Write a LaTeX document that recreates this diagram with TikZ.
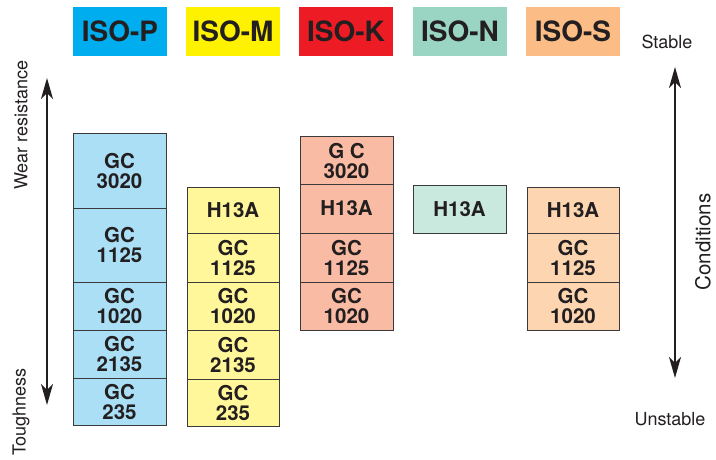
\documentclass[tikz,border=0pt]{standalone}
\usepackage{fontspec}
\setmainfont{TeX Gyre Heros}
\usetikzlibrary{arrows.meta}
\definecolor{hP}{HTML}{00AEEF}
\definecolor{hM}{HTML}{FFF200}
\definecolor{hK}{HTML}{ED1C24}
\definecolor{hN}{HTML}{99D5C2}
\definecolor{hS}{HTML}{FBBD85}
\definecolor{cP}{HTML}{AADFF6}
\definecolor{cM}{HTML}{FFF799}
\definecolor{cK}{HTML}{F9BBA3}
\definecolor{cN}{HTML}{C9E8DE}
\definecolor{cS}{HTML}{FDD6B1}
\definecolor{edge}{HTML}{3A3A3A}
\definecolor{ink}{HTML}{231F20}
\tikzset{
  header/.style={inner sep=0pt, minimum width=94pt, minimum height=49pt, text=ink,
    font=\fontsize{28}{28}\selectfont\bfseries},
  cell/.style={draw=edge, line width=1pt, inner sep=0pt, align=center, text=ink,
    font=\fontsize{20.5}{20}\selectfont\bfseries},
  lbl/.style={inner sep=0pt, text=ink, font=\fontsize{18}{18}\selectfont},
  axis/.style={draw=ink, line width=1.8pt, {Stealth[length=21pt,width=12pt,inset=6pt]}-{Stealth[length=21pt,width=12pt,inset=6pt]}}
}
\begin{document}
\begin{tikzpicture}[x=1pt,y=1pt]
\useasboundingbox (0,0) rectangle (716,459);
% headers
\node[header, fill=hP] (hp) at (120,427.5) {ISO-P};
\node[header, fill=hM] (hm) at (233,427.5) {ISO-M};
\node[header, fill=hK] (hk) at (346,427.5) {ISO-K};
\node[header, fill=hN] (hn) at (460,427.5) {ISO-N};
\node[header, fill=hS] (hs) at (573,427.5) {ISO-S};
% P column
\node[cell, fill=cP, minimum width=93pt, minimum height=74pt] (p1) at (119.5,288) {GC\\3020};
\node[cell, fill=cP, minimum width=93pt, minimum height=74pt] (p2) at (119.5,214) {GC\\1125};
\node[cell, fill=cP, minimum width=93pt, minimum height=48pt] (p3) at (119.5,153) {GC\\1020};
\node[cell, fill=cP, minimum width=93pt, minimum height=48pt] (p4) at (119.5,105) {GC\\2135};
\node[cell, fill=cP, minimum width=93pt, minimum height=47pt] (p5) at (119.5,57.5) {GC\\235};
% M column
\node[cell, fill=cM, minimum width=92pt, minimum height=46pt] (m1) at (233,249) {H13A};
\node[cell, fill=cM, minimum width=92pt, minimum height=49pt] (m2) at (233,201.5) {GC\\1125};
\node[cell, fill=cM, minimum width=92pt, minimum height=48pt] (m3) at (233,153) {GC\\1020};
\node[cell, fill=cM, minimum width=92pt, minimum height=49pt] (m4) at (233,104.5) {GC\\2135};
\node[cell, fill=cM, minimum width=92pt, minimum height=47pt] (m5) at (233,56.5) {GC\\235};
% K column
\node[cell, fill=cK, minimum width=93pt, minimum height=47pt] (k1) at (346.5,298.5) {G C\\3020};
\node[cell, fill=cK, minimum width=93pt, minimum height=49pt] (k2) at (346.5,250.5) {H13A};
\node[cell, fill=cK, minimum width=93pt, minimum height=49pt] (k3) at (346.5,201.5) {GC\\1125};
\node[cell, fill=cK, minimum width=93pt, minimum height=48pt] (k4) at (346.5,153) {GC\\1020};
% N column
\node[cell, fill=cN, minimum width=93pt, minimum height=48pt] (n1) at (459.5,250) {H13A};
% S column
\node[cell, fill=cS, minimum width=92pt, minimum height=46pt] (s1) at (573,249) {H13A};
\node[cell, fill=cS, minimum width=92pt, minimum height=49pt] (s2) at (573,201.5) {GC\\1125};
\node[cell, fill=cS, minimum width=92pt, minimum height=48pt] (s3) at (573,153) {GC\\1020};
% left axis
\coordinate (la) at (47,381);
\coordinate (lb) at (47,54);
\draw[axis] (lb) -- (la);
\node[lbl, rotate=90] (wear) at (21,334) {Wear resistance};
\node[lbl, rotate=90] (tough) at (21,47) {Toughness};
% right axis
\coordinate (ra) at (675,392);
\coordinate (rb) at (675,81);
\draw[axis] (rb) -- (ra);
\node[lbl] (stable) at (667,417) {Stable};
\node[lbl] (unstable) at (670,40) {Unstable};
\node[lbl, rotate=90, font=\fontsize{20.5}{20.5}\selectfont] (cond) at (703,217) {Conditions};
\end{tikzpicture}
\end{document}
